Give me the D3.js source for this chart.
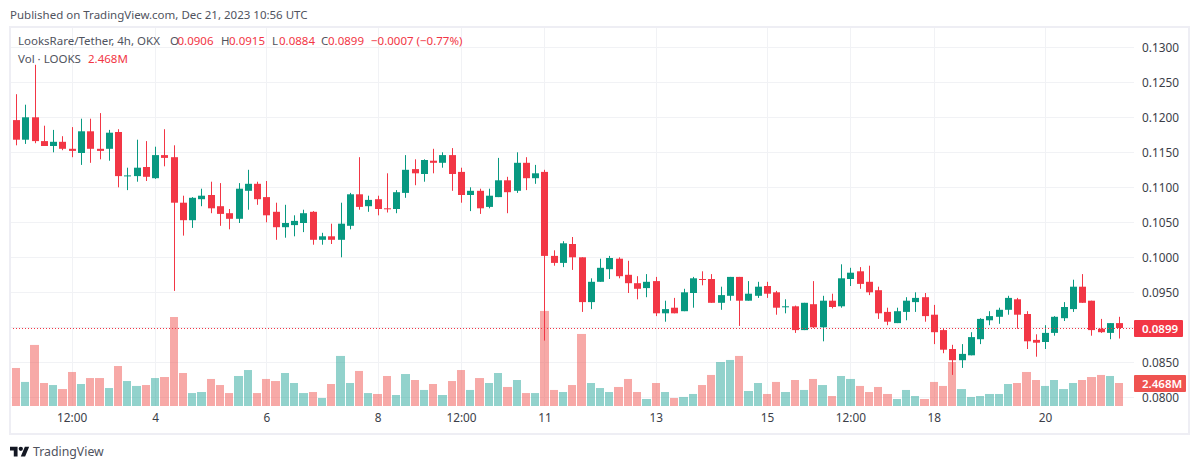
<!DOCTYPE html>
<html>
<head>
<meta charset="utf-8">
<title>LooksRare/Tether</title>
<script src="https://cdn.jsdelivr.net/npm/d3@7"></script>
<style>
  html, body { margin: 0; padding: 0; background: #fff; }
  svg { display: block; }
  text { font-family: "Noto Sans", sans-serif; font-size: 11.5px; fill: #50535e; }
  .tick text { font-size: 11.8px; }
</style>
</head>
<body>
<svg id="chart" width="1200" height="469"></svg>
<script>
// one entry per 4h bar, the first bar is cut off by the left edge of the pane
const opens = [
  0.1159,0.1196,0.1168,0.1200,0.1166,0.1159,0.1165,0.1155,0.1149,0.1180,0.1155,
  0.1155,0.1179,0.1116,0.1116,0.1129,0.1113,0.1146,0.1143,0.1078,0.1053,0.1083,
  0.1089,0.1073,0.1063,0.1055,0.1095,0.1105,0.1086,0.1065,0.1043,0.1046,0.1049,
  0.1065,0.1025,0.1030,0.1025,0.1045,0.1090,0.1073,0.1083,0.1070,0.1069,0.1092,
  0.1126,0.1119,0.1138,0.1135,0.1146,0.1122,0.1089,0.1095,0.1072,0.1086,0.1110,
  0.1095,0.1135,0.1113,0.1122,0.1002,0.0992,0.1019,0.1000,0.0936,0.0965,0.0983,
  0.0998,0.0975,0.0963,0.0956,0.0966,0.0920,0.0928,0.0923,0.0949,0.0969,0.0969,
  0.0935,0.0945,0.0972,0.0938,0.0945,0.0959,0.0950,0.0929,0.0930,0.0896,0.0933,
  0.0900,0.0938,0.0930,0.0969,0.0980,0.0965,0.0953,0.0922,0.0906,0.0922,0.0936,
  0.0943,0.0918,0.0896,0.0869,0.0853,0.0860,0.0883,0.0910,0.0915,0.0925,0.0940,
  0.0919,0.0882,0.0879,0.0892,0.0913,0.0926,0.0958,0.0938,0.0898,0.0892,0.0906
];
const highs = [
  0.1196,0.1233,0.1218,0.1275,0.1188,0.1182,0.1173,0.1186,0.1198,0.1198,0.1206,
  0.1182,0.1183,0.1128,0.1168,0.1166,0.1158,0.1183,0.1160,0.1088,0.1086,0.1098,
  0.1108,0.1106,0.1069,0.1106,0.1125,0.1108,0.1109,0.1078,0.1075,0.1060,0.1068,
  0.1066,0.1035,0.1048,0.1078,0.1092,0.1143,0.1088,0.1088,0.1120,0.1096,0.1146,
  0.1140,0.1140,0.1155,0.1150,0.1156,0.1128,0.1100,0.1098,0.1098,0.1142,0.1115,
  0.1150,0.1143,0.1132,0.1125,0.1010,0.1023,0.1029,0.1000,0.0970,0.0998,0.1002,
  0.1000,0.0995,0.0973,0.0976,0.0972,0.0938,0.0942,0.0955,0.0972,0.0980,0.0976,
  0.0958,0.0972,0.0972,0.0966,0.0965,0.0965,0.0952,0.0940,0.0931,0.0935,0.0966,
  0.0945,0.0948,0.0990,0.0985,0.0986,0.0988,0.0958,0.0928,0.0928,0.0943,0.0950,
  0.0949,0.0932,0.0899,0.0875,0.0876,0.0893,0.0913,0.0923,0.0928,0.0945,0.0942,
  0.0923,0.0890,0.0903,0.0916,0.0936,0.0968,0.0976,0.0938,0.0912,0.0906,0.0915
];
const lows = [
  0.1159,0.1160,0.1162,0.1163,0.1159,0.1150,0.1153,0.1143,0.1132,0.1135,0.1140,
  0.1138,0.1100,0.1096,0.1108,0.1109,0.1112,0.1130,0.0952,0.1031,0.1042,0.1073,
  0.1063,0.1045,0.1040,0.1049,0.1068,0.1075,0.1050,0.1025,0.1028,0.1030,0.1036,
  0.1018,0.1018,0.1019,0.1000,0.1040,0.1068,0.1065,0.1060,0.1064,0.1063,0.1085,
  0.1103,0.1108,0.1120,0.1128,0.1095,0.1078,0.1066,0.1062,0.1070,0.1086,0.1063,
  0.1092,0.1096,0.1105,0.0881,0.0988,0.0986,0.0982,0.0922,0.0926,0.0965,0.0969,
  0.0970,0.0949,0.0940,0.0943,0.0916,0.0908,0.0920,0.0923,0.0928,0.0960,0.0935,
  0.0925,0.0938,0.0902,0.0938,0.0942,0.0942,0.0918,0.0920,0.0892,0.0896,0.0899,
  0.0880,0.0927,0.0928,0.0959,0.0955,0.0946,0.0912,0.0903,0.0906,0.0910,0.0922,
  0.0908,0.0876,0.0863,0.0832,0.0842,0.0860,0.0876,0.0903,0.0905,0.0918,0.0898,
  0.0869,0.0858,0.0869,0.0888,0.0909,0.0922,0.0935,0.0888,0.0892,0.0883,0.0884
];
const closes = [
  0.1196,0.1168,0.1200,0.1166,0.1159,0.1165,0.1155,0.1152,0.1180,0.1155,0.1152,
  0.1178,0.1116,0.1117,0.1128,0.1115,0.1146,0.1142,0.1078,0.1053,0.1085,0.1088,
  0.1070,0.1062,0.1055,0.1098,0.1105,0.1083,0.1060,0.1043,0.1049,0.1052,0.1063,
  0.1025,0.1030,0.1025,0.1048,0.1090,0.1072,0.1082,0.1069,0.1069,0.1093,0.1125,
  0.1120,0.1139,0.1135,0.1146,0.1119,0.1089,0.1095,0.1070,0.1088,0.1110,0.1093,
  0.1135,0.1113,0.1120,0.1002,0.0992,0.1020,0.1000,0.0936,0.0965,0.0985,0.0999,
  0.0973,0.0963,0.0955,0.0965,0.0920,0.0926,0.0920,0.0950,0.0970,0.0968,0.0935,
  0.0946,0.0972,0.0938,0.0948,0.0958,0.0948,0.0928,0.0930,0.0896,0.0935,0.0900,
  0.0938,0.0929,0.0970,0.0978,0.0962,0.0950,0.0920,0.0908,0.0923,0.0938,0.0942,
  0.0916,0.0893,0.0868,0.0853,0.0862,0.0886,0.0912,0.0916,0.0925,0.0942,0.0918,
  0.0880,0.0878,0.0892,0.0915,0.0929,0.0958,0.0935,0.0896,0.0893,0.0906,0.0899
];
// volume in millions of LOOKS
const volumes = [
  6.12,4.08,2.58,6.55,2.468,2.25,1.82,3.65,2.36,3.00,3.00,
  1.93,4.29,2.68,2.15,2.25,3.00,3.11,9.55,3.54,1.39,1.50,
  2.90,2.25,1.39,3.22,3.86,1.39,2.90,2.68,3.54,2.468,1.39,
  1.50,0.86,2.36,5.37,2.468,3.76,1.39,1.29,3.22,1.18,3.43,
  2.79,1.72,2.36,1.18,2.68,3.86,1.72,3.00,2.468,3.54,2.04,
  2.79,1.39,1.39,10.2,1.72,1.50,2.25,7.73,2.468,1.93,1.50,
  2.04,2.90,1.50,0.75,2.468,1.50,0.86,0.97,1.29,2.25,3.33,
  4.72,4.94,5.37,1.61,2.468,1.29,2.58,1.50,2.79,1.72,2.90,
  2.25,1.07,3.22,2.90,2.15,1.50,2.04,1.29,0.75,1.72,1.07,
  0.75,2.58,2.15,4.72,1.82,0.97,1.07,1.29,1.29,2.36,2.468,
  3.65,2.79,2.15,2.79,1.82,2.468,2.79,3.11,3.33,3.22,2.468
];

const priceTicks = [0.13, 0.125, 0.12, 0.115, 0.11, 0.105, 0.1, 0.095, 0.09, 0.085, 0.08];
const priceTickLabels = ["0.1300", "0.1250", "0.1200", "0.1150", "0.1100", "0.1050", "0.1000", "0.0950", "", "0.0850", "0.0800"];
const timeTickBars = [7, 16, 28, 40, 49, 58, 70, 82, 91, 100, 112];
const timeTickLabels = ["12:00", "4", "6", "8", "12:00", "11", "13", "15", "12:00", "18", "20"];

const lastPrice = 0.0899;
const lastVolume = 2.468;

const upColor = "#089981";
const downColor = "#f23645";
const gridColor = "#f1f2f5";

const svg = d3.select("#chart");

const x = d3.scaleLinear().domain([0, 120]).range([7.3, 1119.7]);
const y = d3.scaleLinear().domain([0.08, 0.13]).range([397.3, 47.3]);
const yVol = d3.scaleLinear().domain([0, lastVolume]).range([406, 383]);

const paneLeft = 10, paneRight = 1134, paneTop = 28, paneBottom = 406;
const isUp = i => closes[i] >= opens[i];

svg.append("defs").append("clipPath").attr("id", "pane")
  .append("rect")
  .attr("x", paneLeft)
  .attr("y", paneTop)
  .attr("width", paneRight - paneLeft)
  .attr("height", paneBottom - paneTop);

svg.append("text").attr("x", 10).attr("y", 19).text("Published on TradingView.com, Dec 21, 2023 10:56 UTC");

// grid
const grid = svg.append("g");
grid.selectAll("line.h").data(priceTicks).enter().append("line")
  .attr("class", "h")
  .attr("x1", paneLeft).attr("x2", paneRight)
  .attr("y1", d => Math.floor(y(d)) + 0.5).attr("y2", d => Math.floor(y(d)) + 0.5)
  .attr("stroke", gridColor);
grid.selectAll("line.v").data(timeTickBars).enter().append("line")
  .attr("class", "v")
  .attr("x1", d => Math.floor(x(d)) + 0.5).attr("x2", d => Math.floor(x(d)) + 0.5)
  .attr("y1", paneTop).attr("y2", paneBottom)
  .attr("stroke", gridColor);

const plot = svg.append("g").attr("clip-path", "url(#pane)");
const index = d3.range(opens.length);
const barLeft = i => Math.round(x(i) - 4.635);

// volume
plot.append("g").selectAll("rect").data(index).enter().append("rect")
  .attr("x", i => barLeft(i))
  .attr("width", i => barLeft(i + 1) - barLeft(i) - 1)
  .attr("y", i => yVol(volumes[i]))
  .attr("height", i => yVol(0) - yVol(volumes[i]))
  .attr("fill", i => isUp(i) ? "rgba(38,166,154,0.5)" : "rgba(239,83,80,0.5)");

// wicks and bodies
const candles = plot.append("g").selectAll("g").data(index).enter().append("g")
  .attr("fill", i => isUp(i) ? upColor : downColor);
candles.append("rect")
  .attr("x", i => Math.floor(x(i)))
  .attr("width", 1)
  .attr("y", i => y(highs[i]))
  .attr("height", i => y(lows[i]) - y(highs[i]));
candles.append("rect")
  .attr("x", i => Math.floor(x(i)) - 3)
  .attr("width", 7)
  .attr("y", i => y(Math.max(opens[i], closes[i])))
  .attr("height", i => Math.max(1, Math.abs(y(opens[i]) - y(closes[i]))));

// last price line
svg.append("line")
  .attr("x1", paneLeft).attr("x2", paneRight)
  .attr("y1", Math.floor(y(lastPrice)) + 0.5).attr("y2", Math.floor(y(lastPrice)) + 0.5)
  .attr("stroke", downColor)
  .attr("stroke-dasharray", "1 2");

// axes
const priceAxis = d3.axisRight(y)
  .tickValues(priceTicks)
  .tickSize(0)
  .tickPadding(0)
  .tickFormat((d, i) => priceTickLabels[i]);
const timeAxis = d3.axisBottom(x)
  .tickValues(timeTickBars)
  .tickSize(0)
  .tickPadding(0)
  .offset(0)
  .tickFormat((d, i) => timeTickLabels[i]);

const priceG = svg.append("g").attr("transform", "translate(1142,0)").call(priceAxis);
const timeG = svg.append("g").attr("transform", "translate(0,414)").call(timeAxis);
[priceG, timeG].forEach(g => {
  g.select(".domain").remove();
  g.attr("font-family", null).attr("font-size", null);
  g.selectAll("text").style("fill", "#3b3e48");
});

// price scale labels
const addTag = function(value, top, width, color) {
  svg.append("rect").attr("x", paneRight).attr("y", top).attr("width", width).attr("height", 17).attr("rx", 1).attr("fill", color);
  svg.append("text").attr("x", 1142).attr("y", top + 12.5).style("fill", "#fff").style("font-weight", 600).text(value);
};
addTag(lastPrice.toFixed(4), 320, 49, downColor);
addTag(lastVolume.toFixed(3) + "M", 375, 52, "#ef5350");

// legend
const legendValue = "#f23645";
const legend = [
  [18, "LooksRare/Tether, 4h, OKX", null],
  [170, "O", null], [177.5, "0.0906", legendValue],
  [221, "H", null], [229, "0.0915", legendValue],
  [272, "L", null], [279, "0.0884", legendValue],
  [321, "C", null], [328, "0.0899", legendValue],
  [371, "\u22120.0007 (\u22120.77%)", legendValue]
];
svg.append("g").selectAll("text").data(legend).enter().append("text")
  .attr("x", d => d[0]).attr("y", 45)
  .style("fill", d => d[2])
  .text(d => d[1]);
svg.append("text").attr("x", 18).attr("y", 63).text("Vol \u00b7 LOOKS");
svg.append("text").attr("x", 88).attr("y", 63).style("fill", legendValue).text("2.468M");

// frame
svg.append("rect")
  .attr("x", 10).attr("y", 27)
  .attr("width", 1179).attr("height", 407)
  .attr("fill", "none")
  .attr("stroke", "#eeeef4")
  .attr("stroke-width", 2);

// logo
const logo = svg.append("g").attr("transform", "translate(10,444.5) scale(0.54)").attr("fill", "#131722");
logo.append("path").attr("d", "M14 22H7V11H0V4h14v18zM28 22h-8l7.5-18h8L28 22z");
logo.append("circle").attr("cx", 20).attr("cy", 8).attr("r", 4);
svg.append("text").attr("x", 33).attr("y", 456).style("font-size", "12.3px").text("TradingView");
</script>
</body>
</html>
